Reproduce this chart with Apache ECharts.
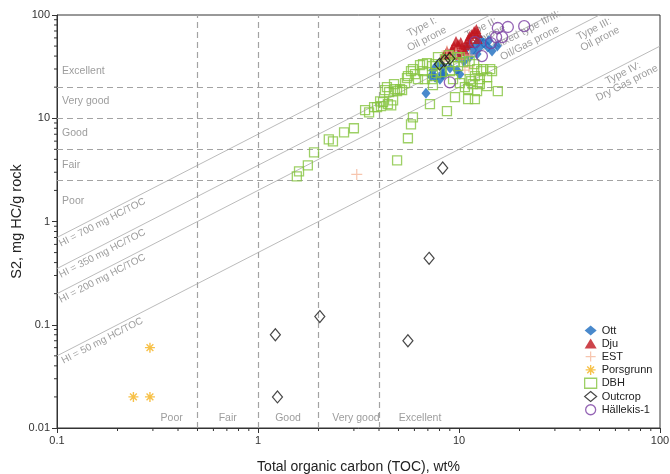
<!DOCTYPE html>
<html>
<head>
<meta charset="utf-8">
<title>S2 vs TOC</title>
<script src="https://cdn.jsdelivr.net/npm/echarts@6/dist/echarts.min.js"></script>
<style>
  html, body { margin: 0; padding: 0; background: #ffffff; }
  #chart { width: 670px; height: 474px; }
</style>
</head>
<body>
<div id="chart"></div>
<script>
// ---- Sample data: [TOC wt%, S2 mg HC/g rock] ----
const ott = [
  [6.85, 17.5], [7.26, 25.6], [7.6, 25.0], [8.04, 23.9], [8.42, 26.7], [7.78, 32.7],
  [8.32, 32.0], [9.02, 30.6], [9.78, 29.2], [10.1, 26.7], [7.42, 29.2], [8.23, 26.7],
  [9.78, 40.0], [11.0, 48.9], [11.7, 45.7], [12.3, 41.8], [12.7, 48.9], [13.3, 53.5],
  [12.7, 58.5], [13.9, 48.9], [11.3, 39.1], [12.1, 51.2], [14.6, 44.7], [10.6, 35.7],
  [15.5, 50.0], [14.1, 56.5]
];
const dju = [
  [8.71, 44.7], [9.23, 46.8], [9.44, 50.0], [9.89, 52.3], [10.2, 54.7], [10.35, 48.9],
  [10.8, 51.2], [11.1, 58.5], [11.3, 62.5], [11.6, 65.5], [11.9, 70.0], [12.2, 73.0],
  [12.4, 67.0], [12.4, 58.5], [10.7, 44.7], [9.12, 41.8], [10.0, 40.9], [8.42, 40.9],
  [9.66, 56.0], [11.3, 53.5]
];
const est = [
  [3.1, 2.86], [10.7, 29.2], [11.2, 31.3], [9.66, 42.8], [9.23, 40.0], [8.71, 44.7],
  [10.35, 37.4], [11.3, 40.9], [8.42, 35.7]
];
const porsgrunn = [[0.24, 0.02], [0.29, 0.02], [0.29, 0.06]];
const dbh = [
  [1.56, 2.73], [1.60, 3.06], [1.77, 3.50], [1.90, 4.68], [2.25, 6.25], [2.36, 5.98],
  [2.68, 7.31], [3.00, 8.00], [3.41, 11.96], [3.57, 11.4], [3.78, 12.8], [3.91, 12.8],
  [4.05, 14.6], [4.19, 14.3], [4.43, 13.7], [4.70, 14.9], [4.49, 17.9], [4.75, 21.4],
  [4.92, 18.3], [5.21, 18.7], [4.38, 20.0], [4.28, 18.7], [4.80, 19.1], [5.09, 19.1],
  [4.09, 13.1], [4.60, 13.3], [5.51, 24.5], [5.57, 25.6], [6.25, 23.9], [6.40, 32.7],
  [6.93, 34.2], [6.62, 28.6], [7.34, 32.0], [8.23, 28.0], [9.02, 28.6], [9.78, 39.1],
  [10.5, 35.0], [11.3, 35.7], [12.3, 29.9], [13.2, 29.9], [14.3, 29.9], [13.8, 25.0],
  [11.3, 23.9], [11.7, 21.4], [11.1, 19.1], [12.3, 18.3], [11.1, 15.3], [12.0, 15.3],
  [9.55, 16.0], [8.71, 11.7], [7.17, 13.7], [5.90, 10.2], [5.77, 8.74], [5.57, 6.40],
  [4.92, 3.91], [15.6, 18.3], [13.8, 20.5], [12.7, 23.9], [14.6, 28.6], [10.7, 20.0],
  [9.89, 32.0], [7.34, 23.9], [5.90, 29.9], [7.42, 20.9], [6.62, 33.4], [7.60, 33.4],
  [9.55, 35.0], [10.1, 39.1], [11.9, 33.4], [12.9, 28.6], [12.7, 21.4], [12.0, 25.6],
  [11.5, 22.9], [5.77, 28.6], [8.51, 37.4], [7.86, 39.1], [8.91, 40.9], [6.04, 26.7],
  [5.39, 21.9], [6.77, 23.9], [7.70, 27.3], [9.34, 23.9], [10.1, 21.9]
];
const outcrop = [
  [1.22, 0.08], [1.25, 0.02], [2.03, 0.12], [5.57, 0.07], [7.1, 0.44], [8.3, 3.3],
  [8.0, 33.4], [8.5, 36.2], [9.0, 37.9]
];
const hallekis = [
  [15.6, 74.8], [17.5, 76.5], [21.1, 78.0], [15.3, 61.0], [16.4, 61.0], [14.4, 53.5],
  [12.0, 54.7], [13.0, 40.0], [9.0, 22.3]
];

// ---- Reference lines and class boundaries ----
const hiValues = [700, 350, 200, 50];             // HI, mg HC/g TOC
const s2Bounds = [2.5, 5, 10, 20];                // S2 quality boundaries
const tocBounds = [0.5, 1, 2, 4];                 // TOC quality boundaries
const xTicks = ['0.1', '1', '10', '100'];
const yTicks = ['0.01', '0.1', '1', '10', '100'];

// ---- Annotation text and anchors [TOC, S2] ----
const s2ClassText = ['Excellent', 'Very good', 'Good', 'Fair', 'Poor'];
const s2ClassPos = [[0.106, 28.6], [0.106, 14.6], [0.106, 7.15], [0.106, 3.5], [0.106, 1.56]];
const tocClassText = ['Poor', 'Fair', 'Good', 'Very good', 'Excellent'];
const tocClassPos = [[0.372, 0.0125], [0.707, 0.0125], [1.41, 0.0125], [3.07, 0.0125], [6.4, 0.0125]];
const hiLabelText = ['HI = 700 mg HC/TOC', 'HI = 350 mg HC/TOC', 'HI = 200 mg HC/TOC', 'HI = 50 mg HC/TOC'];
const hiLabelPos = [[0.168, 0.978], [0.168, 0.489], [0.168, 0.280], [0.168, 0.070]];
const typeLabelText = ['Type I:', 'Oil prone', 'Type II:', 'Oil prone', 'Mixed type II/III:',
  'Oil/Gas prone', 'Type III:', 'Oil prone', 'Type IV:', 'Dry Gas prone'];
const typeLabelPos = [[6.55, 76.5], [6.93, 58.5], [12.9, 74.8], [13.6, 61.2], [21.8, 71.5],
  [22.5, 53.5], [47.0, 73.1], [50.3, 58.5], [65.5, 27.3], [68.5, 21.9]];

const minorSteps = [2, 3, 4, 5, 6, 7, 8, 9];
const xDecades = [0.1, 1, 10];
const yDecades = [0.01, 0.1, 1, 10];

const FONT = '"Liberation Sans", Arial, Helvetica, sans-serif';
const GREY = '#9d9d9d';
const AXIS = '#333333';

const chart = echarts.init(document.getElementById('chart'), null, { renderer: 'canvas' });

const fmt = v => (+Number(v).toPrecision(3)).toString();

// angle of a unit-slope line on the log-log grid, in screen space
function lineAngle(api) {
  const a = api.coord([1, 1]);
  const b = api.coord([10, 10]);
  return Math.atan2(a[1] - b[1], b[0] - a[0]);
}

function textSeries(name, pos, texts, opts) {
  return {
    type: 'custom',
    name: name,
    silent: true,
    z: opts.z || 3,
    clip: false,
    data: pos,
    renderItem(params, api) {
      const p = api.coord([api.value(0), api.value(1)]);
      return {
        type: 'text',
        x: p[0],
        y: p[1],
        rotation: opts.rotate ? lineAngle(api) : 0,
        style: {
          text: texts[params.dataIndex],
          fill: GREY,
          font: opts.font,
          align: opts.align || 'center',
          verticalAlign: 'middle'
        }
      };
    }
  };
}

const xMinor = [];
xDecades.forEach(d => minorSteps.forEach(m => xMinor.push([+(d * m).toPrecision(3), 0.01])));
const yMinor = [];
yDecades.forEach(d => minorSteps.forEach(m => yMinor.push([0.1, +(d * m).toPrecision(3)])));

function tickSeries(data, horizontal) {
  return {
    type: 'custom',
    silent: true,
    clip: false,
    z: 5,
    data: data,
    renderItem(params, api) {
      const p = api.coord([api.value(0), api.value(1)]);
      const shape = horizontal
        ? { x1: p[0], y1: p[1], x2: p[0], y2: p[1] + 3 }
        : { x1: p[0], y1: p[1], x2: p[0] - 3, y2: p[1] };
      return { type: 'line', shape: shape, style: { stroke: AXIS, lineWidth: 1 } };
    }
  };
}

const hiLines = hiValues.map(hi => ({
  type: 'line',
  silent: true,
  symbol: 'none',
  clip: true,
  z: 1,
  lineStyle: { color: '#b3b3b3', width: 0.9 },
  data: [[0.1, hi / 100 * 0.1], [100, hi / 100 * 100]]
}));

const boundSeries = {
  type: 'line',
  silent: true,
  data: [],
  z: 1,
  markLine: {
    silent: true,
    symbol: 'none',
    animation: false,
    label: { show: false },
    lineStyle: { color: '#a3a3a3', width: 1.2, type: [6, 4] },
    data: s2Bounds.map(v => ({ yAxis: v })).concat(tocBounds.map(v => ({ xAxis: v })))
  }
};

const plusPath = 'path://M5,0L5,10M0,5L10,5';
const starPath = 'path://M5,0L5,10M0,5L10,5M1.6,1.6L8.4,8.4M8.4,1.6L1.6,8.4';

const scatterSeries = [
  { name: 'Ott', data: ott, symbol: 'diamond', symbolSize: [9, 11],
    itemStyle: { color: '#1b6cbf' }, z: 10 },
  { name: 'Dju', data: dju, symbol: 'triangle', symbolSize: [10, 10],
    itemStyle: { color: '#c1151e' }, z: 11 },
  { name: 'EST', data: est, symbol: plusPath, symbolSize: 11,
    itemStyle: { color: 'rgba(0,0,0,0)', borderColor: '#f5b79a', borderWidth: 1.2 }, z: 12 },
  { name: 'Porsgrunn', data: porsgrunn, symbol: starPath, symbolSize: 10,
    itemStyle: { color: 'rgba(0,0,0,0)', borderColor: '#f5b21c', borderWidth: 1.4 }, z: 13 },
  { name: 'DBH', data: dbh, symbol: 'rect', symbolSize: 9,
    itemStyle: { color: 'rgba(0,0,0,0)', borderColor: '#86c440', borderWidth: 1.3 }, z: 14 },
  { name: 'Outcrop', data: outcrop, symbol: 'diamond', symbolSize: [10, 12],
    itemStyle: { color: 'rgba(0,0,0,0)', borderColor: '#1a1a1a', borderWidth: 1.2 }, z: 15 },
  { name: 'Hällekis-1', data: hallekis, symbol: 'circle', symbolSize: 11,
    itemStyle: { color: 'rgba(0,0,0,0)', borderColor: '#7a3fa3', borderWidth: 1.3 }, z: 16 }
].map(s => Object.assign({ type: 'scatter', silent: true, animation: false }, s));

const legendData = scatterSeries.map(s => ({
  name: s.name,
  icon: s.symbol,
  itemStyle: Object.assign({}, s.itemStyle, { borderWidth: s.itemStyle.borderWidth || 0 })
}));

chart.setOption({
  animation: false,
  backgroundColor: '#ffffff',
  textStyle: { fontFamily: FONT },
  grid: { left: 57, right: 10, top: 15, bottom: 46, show: true, borderColor: AXIS, borderWidth: 1,
          backgroundColor: 'transparent', containLabel: false, outerBoundsMode: 'none' },
  legend: {
    orient: 'vertical',
    left: 584,
    top: 325,
    padding: 0,
    itemWidth: 12,
    itemHeight: 10,
    itemGap: 2,
    selectedMode: false,
    textStyle: { fontSize: 11, lineHeight: 11, color: '#222', fontFamily: FONT },
    data: legendData
  },
  xAxis: {
    type: 'log', logBase: 10, min: 0.1, max: 100,
    name: 'Total organic carbon (TOC), wt%',
    nameLocation: 'middle', nameGap: 32, nameMoveOverlap: false,
    nameTextStyle: { fontSize: 14, color: '#222', fontFamily: FONT },
    axisLine: { lineStyle: { color: AXIS, width: 1 } },
    axisTick: { length: 5, lineStyle: { color: AXIS } },
    axisLabel: { fontSize: 11, color: '#333', margin: 7,
                 formatter: v => xTicks.includes(fmt(v)) ? fmt(v) : '' },
    splitLine: { show: false }
  },
  yAxis: {
    type: 'log', logBase: 10, min: 0.01, max: 100,
    name: 'S2, mg HC/g rock',
    nameLocation: 'middle', nameGap: 33, nameMoveOverlap: false,
    nameTextStyle: { fontSize: 14.5, color: '#222', fontFamily: FONT },
    axisLine: { lineStyle: { color: AXIS, width: 1 } },
    axisTick: { length: 5, lineStyle: { color: AXIS } },
    axisLabel: { fontSize: 11, color: '#333', margin: 7,
                 formatter: v => yTicks.includes(fmt(v)) ? fmt(v) : '' },
    splitLine: { show: false }
  },
  series: [
    boundSeries,
    ...hiLines,
    textSeries('s2class', s2ClassPos, s2ClassText, { font: '10.5px ' + FONT, align: 'left' }),
    textSeries('tocclass', tocClassPos, tocClassText, { font: '10.5px ' + FONT }),
    textSeries('hilabels', hiLabelPos, hiLabelText, { font: '10px ' + FONT, rotate: true }),
    textSeries('typelabels', typeLabelPos, typeLabelText, { font: '10.5px ' + FONT, rotate: true }),
    tickSeries(xMinor, true),
    tickSeries(yMinor, false),
    ...scatterSeries
  ]
});
</script>
</body>
</html>
